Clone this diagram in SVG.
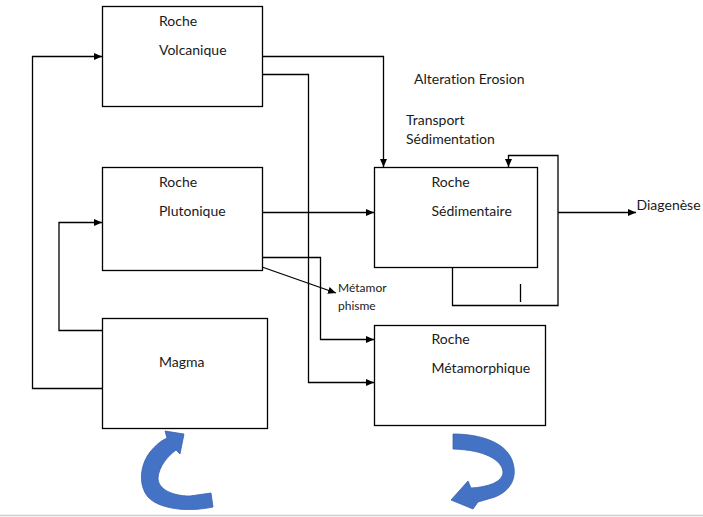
<svg xmlns="http://www.w3.org/2000/svg" width="703" height="517" viewBox="0 0 703 517">
<style>
.box{fill:#fff;stroke:#000;stroke-width:1.3}
.c{fill:none;stroke:#000;stroke-width:1.3}
text{font-family:Lato,"Liberation Sans",sans-serif;font-size:14px;fill:#1a1a1a;font-variant-ligatures:none;font-feature-settings:"liga" 0}
.sm{font-size:12px}
.blue{fill:#4472C4;stroke:#3A62AD;stroke-width:0.8}
</style>
<defs>
<marker id="ah" markerUnits="userSpaceOnUse" markerWidth="9" markerHeight="8" refX="8" refY="3.5" orient="auto">
<path d="M0,0 L8,3.5 L0,7 z" fill="#000"/>
</marker>
</defs>
<rect width="703" height="517" fill="#fff"/>
<line x1="0" y1="515.5" x2="703" y2="515.5" stroke="#cfcfcf" stroke-width="1.5"/>
<g id="connectors">
<path class="c" d="M102,388.5 H32.5 V56.5 H102" marker-end="url(#ah)"/>
<path class="c" d="M102,330.5 H59 V222.5 H102" marker-end="url(#ah)"/>
<path class="c" d="M262,56.5 H383.5 V167" marker-end="url(#ah)"/>
<path class="c" d="M262,74.5 H308.5 V382.5 H374" marker-end="url(#ah)"/>
<path class="c" d="M262,212.5 H374" marker-end="url(#ah)"/>
<path class="c" d="M262,257.5 H320.5 V339.5 H374" marker-end="url(#ah)"/>
<path class="c" d="M262,267 L336,293" marker-end="url(#ah)"/>
<path class="c" d="M452.5,267 V305.5 H558 V155.5 H508.5 V167" marker-end="url(#ah)"/>
<path class="c" d="M558,212.5 H636" marker-end="url(#ah)"/>
<path class="c" d="M520.5,284 V302"/>
</g>
<g id="volcanique">
<rect class="box" x="102.5" y="6.5" width="160" height="100"/>
<text x="159" y="26">Roche</text>
<text x="159" y="55">Volcanique</text>
</g>
<g id="plutonique">
<rect class="box" x="102.5" y="167.5" width="160" height="103"/>
<text x="159" y="187">Roche</text>
<text x="159" y="216">Plutonique</text>
</g>
<g id="magma">
<rect class="box" x="102.5" y="318.5" width="165" height="110"/>
<text x="159" y="367">Magma</text>
</g>
<g id="sedimentaire">
<rect class="box" x="374.5" y="167.5" width="163" height="100"/>
<text x="431.5" y="187">Roche</text>
<text x="431.5" y="216">Sédimentaire</text>
</g>
<g id="metamorphique">
<rect class="box" x="374.5" y="325.5" width="171" height="100"/>
<text x="431.5" y="344">Roche</text>
<text x="431.5" y="373">Métamorphique</text>
</g>
<g id="labels">
<text x="414" y="84">Alteration Erosion</text>
<text x="406" y="125">Transport</text>
<text x="406" y="144">Sédimentation</text>
<text x="636.5" y="210">Diagenèse</text>
<text class="sm" x="338" y="292">Métamor</text>
<text class="sm" x="338" y="310">phisme</text>
</g>
<g id="cycle-arrows">
<path class="blue" d="M213,507 C190,512 160,510 148,497 C138,485 140,465 150,452 C155,446 160,441 167,438 L165,431 L184,434 L180,454 L176,450 C168,456 159,466 158,478 C158,489 172,496 190,496 L211,493 Z"/>
<path class="blue" d="M453,434 C480,434 505,442 512,460 C518,476 512,490 495,497 L478,502 L473,509 L451,500 L468,481 L471,488 C488,487 503,482 503,472 C502,460 485,450 453,449 Z"/>
</g>
</svg>
